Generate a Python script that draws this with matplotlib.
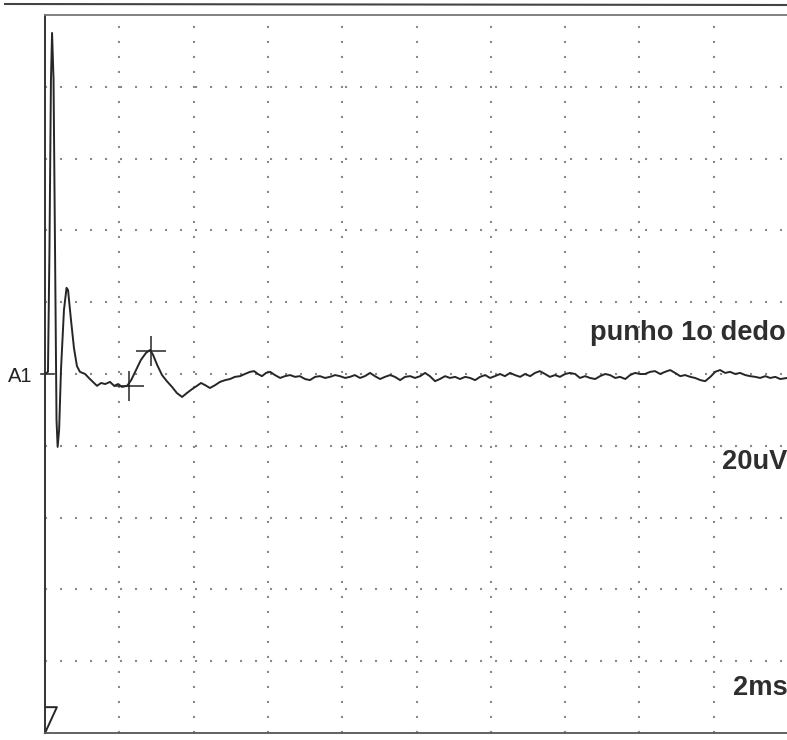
import matplotlib.pyplot as plt
from matplotlib.lines import Line2D

tiempo = [0, 0.08, 0.12, 0.16, 0.19, 0.23, 0.27, 0.31, 0.34, 0.38, 0.43, 0.51, 0.58, 0.62,
          0.70, 0.78, 0.86, 0.94, 1.08, 1.18, 1.29, 1.40, 1.51, 1.62, 1.75, 1.86, 1.97, 2.07,
          2.21, 2.32, 2.45, 2.58, 2.72, 2.83, 2.91, 3.02, 3.15, 3.28, 3.42, 3.55, 3.69, 3.82,
          3.96, 4.09, 4.20, 4.31, 4.44, 4.58, 4.71, 4.85, 4.98, 5.11, 5.25, 5.38, 5.52, 5.63,
          5.73, 5.84, 5.95, 6.06, 6.19, 6.33, 6.46, 6.60, 6.73, 6.86, 7.00, 7.13, 7.27, 7.40,
          7.54, 7.67, 7.81, 7.94, 8.08, 8.21, 8.34, 8.48, 8.61, 8.75, 8.88, 9.02, 9.15, 9.29,
          9.42, 9.56, 9.69, 9.83, 9.96, 10.10, 10.23, 10.36, 10.50, 10.63, 10.77, 10.90, 11.04,
          11.17, 11.31, 11.44, 11.58, 11.71, 11.85, 11.98, 12.11, 12.25, 12.38, 12.52, 12.65,
          12.79, 12.92, 13.06, 13.19, 13.32, 13.46, 13.59, 13.73, 13.86, 14.00, 14.13, 14.27,
          14.40, 14.54, 14.67, 14.81, 14.94, 15.08, 15.21, 15.35, 15.48, 15.62, 15.75, 15.88,
          16.02, 16.15, 16.29, 16.42, 16.56, 16.69, 16.83, 16.96, 17.10, 17.23, 17.37, 17.50,
          17.64, 17.77, 17.91, 18.04, 18.17, 18.31, 18.44, 18.58, 18.71, 18.85, 18.98, 19.12,
          19.25, 19.39, 19.52, 19.66, 19.79, 19.98]
amplitud = [0, 0.6, 34.5, 81.9, 95, 82, 34.5, -12.8, -20.3, -15.6, 1.1, 17.8, 24.0, 23.4,
            15.0, 7.2, 2.2, 0.6, 0, -1.1, -2.2, -3.3, -2.5, -2.8, -2.2, -3.3, -2.8, -3.6,
            -3.3, -1.7, 1.1, 3.9, 5.9, 6.7, 5.3, 2.5, -0.3, -2.0, -3.6, -5.3, -6.4, -5.3,
            -4.2, -3.3, -2.5, -3.1, -3.9, -3.1, -2.2, -1.7, -1.4, -0.8, -0.6, 0, 0.6, 0.8,
            0, -0.6, 0.3, 0.6, -0.3, -1.1, -0.6, -0.3, -0.8, -0.6, -1.4, -1.7, -0.8, -0.6,
            -1.1, -0.8, -0.3, -0.6, -1.1, -0.8, -0.3, -1.1, -0.6, 0.3, -0.6, -1.4, -0.8, -0.3,
            -0.8, -1.7, -0.8, -0.6, -1.1, -0.6, 0.3, -0.6, -2.0, -1.4, -0.6, -1.1, -0.8,
            -1.4, -0.8, -1.1, -1.7, -0.8, -0.3, -1.1, -0.6, 0, -0.6, 0.3, -0.3,
            -0.8, 0, -0.6, 0.3, 0.8, 0, -0.8, -0.3, -0.8, 0, 0.3, 0,
            -1.1, -0.6, -1.1, -1.4, -0.6, 0, -0.3, -1.1, -0.8, -1.4, -0.3, 0.3,
            0, 0, 0.6, 0.8, 0, 0.6, 1.1, 0.3, -0.6, -0.3, -0.8, -1.1,
            -1.7, -2.0, -0.8, 0.6, 1.1, 0.3, 0.6, 0, 0.3, -0.3, -0.6, -0.8,
            -1.1, -0.6, -1.1, -0.8, -1.4, -1.1]

# marcadores de latencia (cruces)
marcas_t = [2.26, 2.85]
marcas_v = [-3.3, 6.4]

# simbolo de estimulo abajo a la izquierda
estimulo_t = [0, 0.32, 0]
estimulo_v = [-100, -92.8, -92.8]

fig = plt.figure(figsize=(7.87, 7.40), dpi=100)
ax = fig.add_axes([45 / 787, 7 / 740, 743 / 787, 718 / 740])
ax.set_xlim(0, 20)
ax.set_ylim(-100, 100)

# grilla punteada: 2ms y 20uV por division
ax.set_xticks([2 * i for i in range(1, 10)])
ax.set_xticklabels([])
ax.tick_params(axis='x', length=0)
ax.grid(True, color='#8a8a8a', linestyle=(0, (1, 6.2)), linewidth=1.5)
ax.set_yticks([20 * i for i in range(-4, 5)])
ax.set_yticklabels(['' if v != 0 else 'A1' for v in range(-80, 100, 20)],
                   fontsize=14.5, family='Liberation Sans', color='#222222')
ax.tick_params(axis='y', length=0, pad=9)
ax.plot([-0.1, 0.25], [0, 0], color='#333333', lw=1.2, clip_on=False)

ax.spines['right'].set_visible(False)
ax.spines['left'].set_color('#333333')
ax.spines['left'].set_linewidth(1.4)
ax.spines['top'].set_color('#777777')
ax.spines['top'].set_linewidth(1.3)
ax.spines['bottom'].set_color('#555555')
ax.spines['bottom'].set_linewidth(1.3)

ax.plot(tiempo, amplitud, color='#262626', lw=1.4)
ax.plot(marcas_t, marcas_v, linestyle='none', marker='+', markersize=22,
        markeredgewidth=1.1, color='#262626')
ax.plot(estimulo_t, estimulo_v, color='#262626', lw=1.4, clip_on=False)

ax.text(19.93, 11.4, 'punho 1o dedo', ha='right', va='center', fontsize=19.6,
        fontweight='bold', family='Liberation Sans', color='#2e2e2e')
ax.text(19.98, -24.5, '20uV', ha='right', va='center', fontsize=19.6,
        fontweight='bold', family='Liberation Sans', color='#2e2e2e')
ax.text(19.98, -87.5, '2ms', ha='right', va='center', fontsize=19.6,
        fontweight='bold', family='Liberation Sans', color='#2e2e2e')

# borde del papel escaneado arriba
fig.add_artist(Line2D([5 / 787, 1], [1 - 4 / 740, 1 - 5 / 740], color='#444444', lw=1.5))

fig.savefig('out.png', dpi=100)
